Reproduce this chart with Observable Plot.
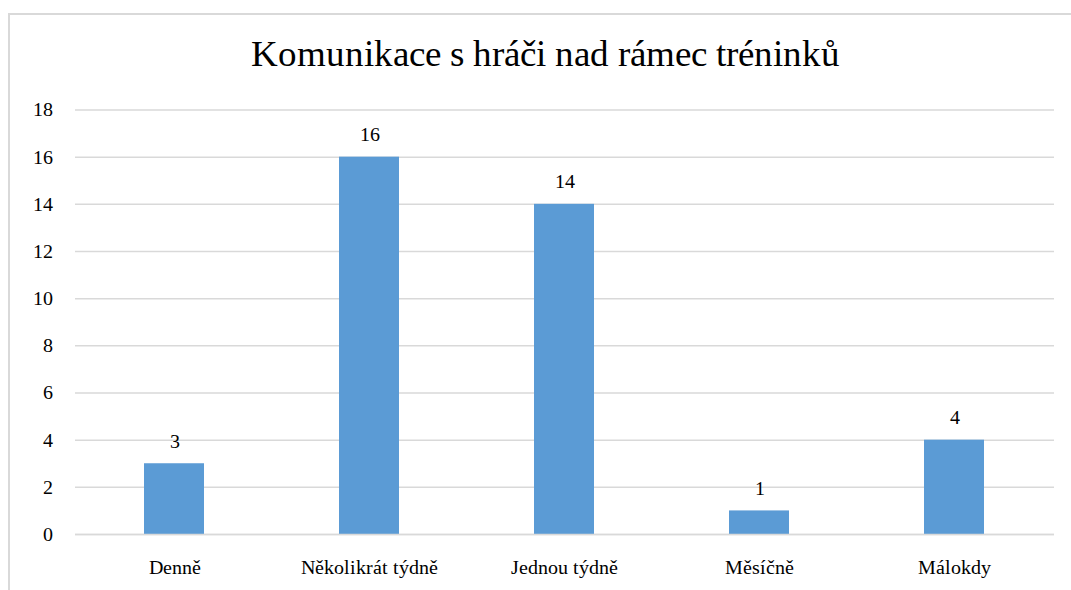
<!DOCTYPE html>
<html>
<head>
<meta charset="utf-8">
<script src="https://cdn.jsdelivr.net/npm/d3@7"></script>
<script src="https://cdn.jsdelivr.net/npm/@observablehq/plot@0.6"></script>
<style>
  @font-face { font-family: "ChartSerif"; src: local("Liberation Serif"), local("LiberationSerif"), local("LiberationSerif-Regular"); }
  html, body { margin: 0; padding: 0; background: #fff; overflow: hidden; }
  body { width: 1071px; height: 590px; position: relative; }
  #frame { position: absolute; left: 8px; top: 13px; width: 1100px; height: 620px; border: 2px solid #d9d9d9; box-sizing: border-box; }
  #title { position: absolute; left: 0; width: 1090px; top: 0; height: 90px; text-align: center; }
  #title span { position: absolute; left: 0; right: 0; top: 35px; font-size: 37px; line-height: 1; color: #000; }
  #chart { position: absolute; left: 0; top: 90px; }
</style>
</head>
<body>
<div id="frame"></div>
<div id="title"><span id="titletext">Komunikace s hráči nad rámec tréninků</span></div>
<div id="chart"></div>
<script>
const categories = ["Denně", "Několikrát týdně", "Jednou týdně", "Měsíčně", "Málokdy"];
const values = [3, 16, 14, 1, 4];
const yTicks = [0, 2, 4, 6, 8, 10, 12, 14, 16, 18];

const data = categories.map((c, i) => ({category: c, value: values[i]}));
const FONT = "ChartSerif, 'Liberation Serif', Tinos, Times, serif";

const chart = Plot.plot({
  width: 1071,
  height: 500,
  marginTop: 19.5,
  marginBottom: 56,
  marginLeft: 75,
  marginRight: 17,
  style: { background: "transparent", fontSize: "20px" },
  x: { domain: categories, paddingInner: 0.69, paddingOuter: 0.345, label: null },
  y: { domain: [0, 18], ticks: yTicks, label: null },
  marks: [
    Plot.gridY(yTicks, { stroke: "#d9d9d9", strokeOpacity: 1, strokeWidth: 1.5 }),
    Plot.barY(data, { x: "category", y: "value", fill: "#5b9bd5" }),
    Plot.ruleY([0], { stroke: "#d9d9d9", strokeWidth: 1.5 }),
    Plot.text(data, { x: "category", y: "value", text: d => String(d.value), lineAnchor: "bottom", dy: -16, fontSize: 20, fill: "#000" }),
    Plot.axisX({ tickSize: 0, tickPadding: 25, fontSize: 20, label: null }),
    Plot.axisY({ ticks: yTicks, tickSize: 0, tickPadding: 23, fontSize: 20, label: null })
  ]
});
const setFont = el => {
  el.setAttribute("font-family", FONT);
  el.style.setProperty("font-family", FONT, "important");
};
setFont(chart);
chart.querySelectorAll("text, g, tspan").forEach(setFont);
setFont(document.getElementById("titletext"));
document.getElementById("chart").appendChild(chart);
</script>
</body>
</html>
